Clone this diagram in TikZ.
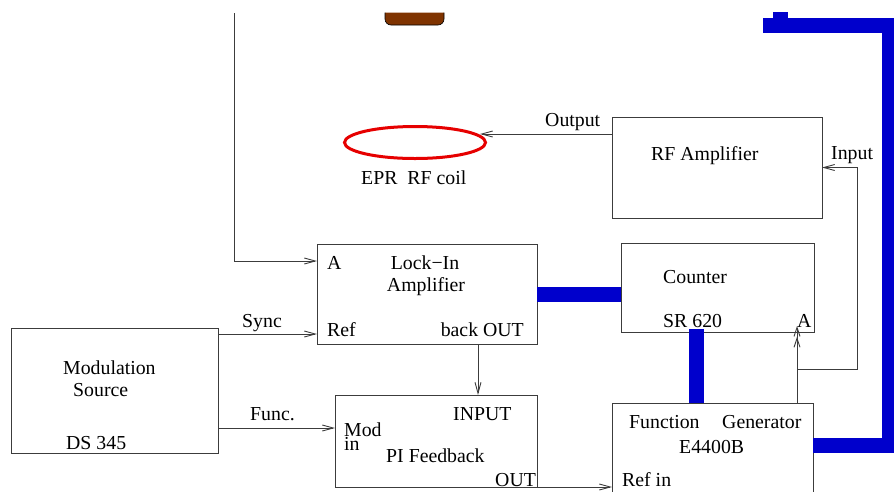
\documentclass[tikz,border=0pt]{standalone}
\usepackage{fontspec}
\setmainfont{Liberation Serif}
\usetikzlibrary{arrows.meta,calc,shapes.geometric}
\definecolor{eblue}{RGB}{0,0,204}
\definecolor{ebrown}{RGB}{127,51,0}
\definecolor{ered}{RGB}{230,0,0}
\definecolor{eline}{RGB}{60,60,60}
\begin{document}
\begin{tikzpicture}[x=1pt,y=-1pt,
  font=\fontsize{19.8}{22}\selectfont,
  box/.style={draw=eline,line width=0.9pt,rectangle,inner sep=0pt,outer sep=0pt},
  lbl/.style={inner sep=0pt,anchor=base west},
  wire/.style={draw=eline,line width=0.9pt},
  arr/.style={wire,-{Straight Barb[length=11pt,width=6pt]}},
  darr/.style={wire,-{Straight Barb[length=9pt,width=6pt]Straight Barb[length=9pt,width=6pt,sep=-6pt]}},
  bus/.style={draw=eblue,line width=15pt}]
\useasboundingbox (0,0) rectangle (894,491);

% boxes
\node[box,minimum width=207pt,minimum height=125pt] (mod) at (114.5,390.5) {};
\node[box,minimum width=220pt,minimum height=100pt] (lockin) at (427,294) {};
\node[box,minimum width=202pt,minimum height=92pt] (pi) at (436,441) {};
\node[box,minimum width=193pt,minimum height=89pt] (counter) at (717.5,287.5) {};
\node[box,minimum width=210pt,minimum height=101pt] (rfamp) at (717,167.5) {};
\node[box,minimum width=201pt,minimum height=117pt] (fgen) at (712.5,461.5) {};
\node[draw=ered,line width=3pt,ellipse,inner sep=0pt,outer sep=0pt,minimum width=141pt,minimum height=32pt] (coil) at (415,142.5) {};

% brown probe
\filldraw[fill=ebrown,draw=black,line width=0.6pt,rounded corners=6pt] (385,12.5) -- (385,25) -- (444,25) -- (444,12.5);

% blue thick connections
\draw[bus] (lockin.east) -- (lockin.east -| counter.west);
\coordinate (cb) at ($(counter.south west)+(75.5,-3)$);
\draw[bus] (cb) -- (cb |- fgen.north);
\coordinate (fe) at ($(fgen.north east)+(0,42)$);
\coordinate (bt) at (763,25.5);
\draw[bus,line join=miter] (fe) -- (889,445) -- (889,25.5) -- (bt);
\fill[eblue] (773,12) rectangle (788,19);

% wires
\coordinate (topin) at (234,13);
\draw[arr] (topin) |- ($(lockin.north west)+(0,17)$);
\coordinate (sy) at ($(mod.north east)+(0,6)$);
\draw[arr] (sy) -- (sy -| lockin.west);
\coordinate (fu) at ($(mod.north east)+(0,100)$);
\draw[arr] (fu) -- (fu -| pi.west);
\coordinate (lo) at ($(lockin.south west)+(161,0)$);
\draw[arr] (lo) -- (lo |- pi.north);
\draw[arr] (pi.south east) -- (pi.south east -| fgen.west);
\coordinate (ro) at ($(rfamp.north west)+(0,17)$);
\draw[arr] (ro) -- ([xshift=-5.5pt]ro -| coil.east);
\coordinate (ga) at ($(fgen.north west)+(185,0)$);
\draw[darr] (ga) -- (ga |- counter.south);
\coordinate (br) at ($(ga)+(0,-34)$);
\draw[arr] (br) -| ($(rfamp.east)+(35,0)$) -- (rfamp.east);

% labels
\node[lbl] (tA) at (327,269) {A};
\node[inner sep=0pt,anchor=base] (tLock) at (425,269) {Lock−In};
\node[inner sep=0pt,anchor=base] (tAmp) at (426,291) {Amplifier};
\node[lbl] (tRef) at (327,336) {Ref};
\node[inner sep=0pt,anchor=base east] (tBack) at (524,336) {back OUT};
\node[lbl] (tCnt) at (663,283) {Counter};
\node[lbl] (tSR) at (663,327) {SR 620};
\node[lbl] (tCA) at (797,327) {A};
\node[lbl] (tRF) at (651,160) {RF Amplifier};
\node[lbl] (tIn) at (831,159) {Input};
\node[lbl] (tOut) at (545,126) {Output};
\node[lbl] (tEPR) at (361,184) {EPR\ \ RF coil};
\node[lbl] (tMod) at (63,374) {Modulation};
\node[lbl] (tSrc) at (73,396) {Source};
\node[lbl] (tDS) at (66,449) {DS 345};
\node[lbl] (tSync) at (242,327) {Sync};
\node[lbl] (tFunc) at (250,420) {Func.};
\node[lbl] (tINP) at (453,420) {INPUT};
\node[inner sep=0pt,anchor=south west,align=left,font=\fontsize{19.8}{14}\selectfont] (tMd) at (344,451) {Mod\\in};
\node[lbl] (tPI) at (386,462) {PI Feedback};
\node[lbl] (tPO) at (495,486) {OUT};
\node[lbl] (tFn) at (629,428) {Function};
\node[lbl] (tGen) at (722,428) {Generator};
\node[lbl] (tE) at (679,453) {E4400B};
\node[lbl] (tRin) at (622,486) {Ref in};
\end{tikzpicture}
\end{document}
